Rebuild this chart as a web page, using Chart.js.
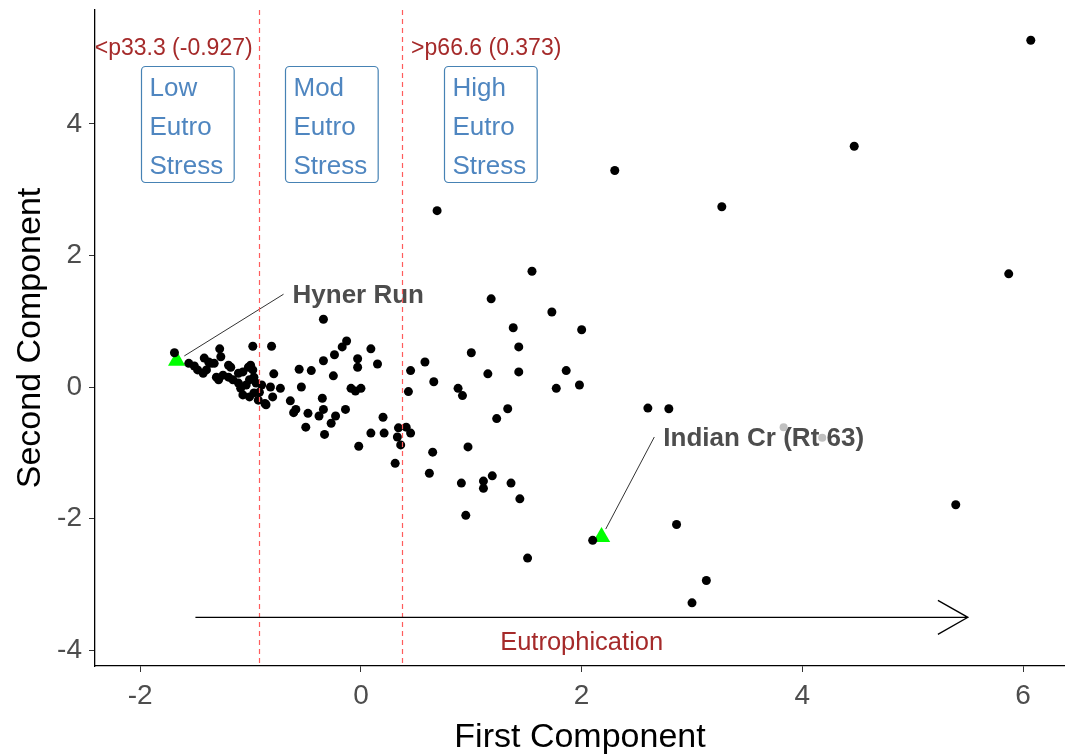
<!DOCTYPE html>
<html>
<head>
<meta charset="utf-8">
<title>PCA - Eutrophication stress</title>
<script src="https://cdn.jsdelivr.net/npm/chart.js"></script>
<style>
  body { margin: 0; background: #fff; }
</style>
</head>
<body>
<canvas id="pcaChart" width="1065" height="755"></canvas>
<script>
const xTicks = [-2, 0, 2, 4, 6];
const yTicks = [-4, -2, 0, 2, 4];

// site scores on the first two principal components
const siteScores = [
  [-1.69, 0.52], [-1.56, 0.36], [-1.51, 0.32], [-1.48, 0.26], [-1.42, 0.44], [-1.38, 0.38],
  [-1.36, 0.36], [-1.40, 0.26], [-1.43, 0.21], [-1.33, 0.36], [-1.27, 0.46], [-1.20, 0.33],
  [-1.18, 0.30], [-1.31, 0.15], [-1.29, 0.11], [-1.25, 0.18], [-1.20, 0.15], [-1.16, 0.11],
  [-1.11, 0.21], [-1.07, 0.23], [-1.02, 0.30], [-1.00, 0.33], [-0.98, 0.26], [-1.11, 0.06],
  [-1.09, -0.02], [-1.04, 0.03], [-1.01, 0.11], [-0.97, 0.15], [-0.95, 0.06], [-1.07, -0.12],
  [-1.01, -0.15], [-0.97, -0.09], [-0.92, -0.08], [-0.93, -0.20], [-0.86, -0.27], [-0.90, 0.03],
  [-1.28, 0.58], [-0.98, 0.62], [-0.81, 0.62],
  [-0.34, 1.03], [-0.13, 0.70], [-0.17, 0.61], [-0.24, 0.49], [-0.34, 0.40], [0.09, 0.58],
  [-0.03, 0.43], [-0.03, 0.30], [0.15, 0.35], [-0.56, 0.27], [-0.45, 0.25], [-0.25, 0.17],
  [-0.79, 0.20], [-0.54, 0.00], [-0.82, 0.00], [-0.73, -0.02], [-0.80, -0.15], [-0.87, -0.25],
  [-0.35, -0.17], [-0.64, -0.21], [-0.59, -0.34], [-0.61, -0.39], [-0.48, -0.40], [-0.38, -0.44],
  [-0.34, -0.34], [-0.23, -0.44], [-0.27, -0.55], [-0.14, -0.34], [-0.50, -0.61], [-0.33, -0.72],
  [-0.09, -0.02], [-0.05, -0.06], [0.00, -0.02], [0.20, -0.46], [0.09, -0.70], [0.21, -0.70],
  [0.34, -0.62], [0.41, -0.61], [0.45, -0.70], [0.33, -0.76], [0.36, -0.88], [-0.02, -0.90],
  [0.31, -1.16],
  [0.45, 0.25], [0.58, 0.38], [0.66, 0.08], [0.43, -0.07], [0.65, -0.99], [1.43, 0.61],
  [1.00, 0.52], [1.15, 0.20], [1.43, 0.23], [0.88, -0.02], [0.92, -0.13], [1.77, -0.02],
  [1.33, -0.33], [1.23, -0.48], [0.97, -0.91], [0.62, -1.31], [0.91, -1.46], [1.11, -1.43],
  [1.11, -1.54], [1.19, -1.35], [1.36, -1.46], [1.44, -1.70], [0.95, -1.95], [1.51, -2.60],
  [1.55, 1.76], [1.18, 1.34], [1.73, 1.14], [1.38, 0.90], [2.00, 0.87], [1.86, 0.25],
  [1.98, 0.03], [2.60, -0.32], [2.79, -0.33], [2.86, -2.09], [3.13, -2.94], [3.00, -3.28],
  [2.10, -2.33], [0.69, 2.68], [2.30, 3.29], [3.27, 2.74], [4.47, 3.66], [6.07, 5.27],
  [5.87, 1.72], [5.39, -1.79]
];

// faint points sitting under the Indian Cr label
const fadedScores = [[3.83, -0.61], [4.18, -0.77]];

// highlighted sites
const labelNames = ['Hyner Run', 'Indian Cr (Rt 63)'];
const labelScores = [[-1.67, 0.40], [2.18, -2.28]];
const labelTextAt = [[-0.62, 1.38], [2.74, -0.79]];

// tercile cut points on the first component
const cutValues = [-0.927, 0.373];
const cutLabels = ['<p33.3 (-0.927)', '>p66.6 (0.373)'];

const stressClasses = [['Low', 'Eutro', 'Stress'], ['Mod', 'Eutro', 'Stress'], ['High', 'Eutro', 'Stress']];
const stressCentreX = [-1.57, -0.27, 1.17];
const stressCentreY = 4.0;

const arrowFrom = [-1.5, -3.5];
const arrowTo = [5.5, -3.5];
const arrowText = 'Eutrophication';
const arrowTextAt = [2.0, -3.89];

const FONT = '"Liberation Sans", Arial, sans-serif';
const toXY = arr => arr.map(p => ({ x: p[0], y: p[1] }));

const annotations = {
  id: 'annotations',
  beforeDatasetsDraw(chart) {
    const { ctx, scales: { x, y } } = chart;
    ctx.save();
    // leader lines and site names
    ctx.strokeStyle = '#333';
    ctx.lineWidth = 1;
    ctx.font = 'bold 26px ' + FONT;
    ctx.fillStyle = '#4d4d4d';
    ctx.textBaseline = 'middle';
    ctx.textAlign = 'left';
    labelScores.forEach((p, i) => {
      const px = x.getPixelForValue(p[0]), py = y.getPixelForValue(p[1]);
      const tx = x.getPixelForValue(labelTextAt[i][0]), ty = y.getPixelForValue(labelTextAt[i][1]);
      const ex = tx - 9, ey = ty - 2;
      const d = Math.hypot(ex - px, ey - py);
      const sx = px + (ex - px) / d * 9, sy = py + (ey - py) / d * 9;
      ctx.beginPath();
      ctx.moveTo(sx, sy);
      ctx.lineTo(ex, ey);
      ctx.stroke();
      ctx.fillText(labelNames[i], tx, ty);
    });
    ctx.restore();
  },
  afterDatasetsDraw(chart) {
    const { ctx, chartArea, scales: { x, y } } = chart;
    ctx.save();

    // tercile cut lines
    ctx.strokeStyle = '#ff5c5c';
    ctx.lineWidth = 1.2;
    ctx.setLineDash([5, 4]);
    cutValues.forEach(v => {
      const px = Math.round(x.getPixelForValue(v)) + 0.5;
      ctx.beginPath();
      ctx.moveTo(px, chartArea.top);
      ctx.lineTo(px, chartArea.bottom);
      ctx.stroke();
    });
    ctx.setLineDash([]);

    // cut labels
    ctx.font = '23px ' + FONT;
    ctx.fillStyle = '#a52a2a';
    ctx.textBaseline = 'middle';
    const cy = y.getPixelForValue(5.14);
    ctx.textAlign = 'right';
    ctx.fillText(cutLabels[0], x.getPixelForValue(cutValues[0]) - 6, cy);
    ctx.textAlign = 'left';
    ctx.fillText(cutLabels[1], x.getPixelForValue(cutValues[1]) + 9, cy);

    // stress class boxes
    ctx.font = '26px ' + FONT;
    stressClasses.forEach((lines, i) => {
      const w = Math.max(...lines.map(t => ctx.measureText(t).width)) + 19;
      const h = 116;
      const cx = x.getPixelForValue(stressCentreX[i]);
      const cyy = y.getPixelForValue(stressCentreY);
      const left = Math.round(cx - w / 2) + 0.5, top = Math.round(cyy - h / 2) + 0.5;
      ctx.strokeStyle = '#4682b4';
      ctx.lineWidth = 1.2;
      ctx.beginPath();
      ctx.roundRect(left, top, w, h, 4);
      ctx.stroke();
      ctx.fillStyle = '#4f86c0';
      ctx.textAlign = 'left';
      lines.forEach((t, k) => ctx.fillText(t, left + 8, cyy + (k - 1) * 39 + 4));
    });

    // eutrophication arrow
    const ax0 = x.getPixelForValue(arrowFrom[0]), ay = y.getPixelForValue(arrowFrom[1]);
    const ax1 = x.getPixelForValue(arrowTo[0]);
    ctx.strokeStyle = '#000';
    ctx.lineWidth = 1.3;
    ctx.beginPath();
    ctx.moveTo(ax0, ay);
    ctx.lineTo(ax1, ay);
    ctx.moveTo(ax1 - 30, ay - 17);
    ctx.lineTo(ax1, ay);
    ctx.lineTo(ax1 - 30, ay + 17);
    ctx.stroke();
    ctx.font = '25.5px ' + FONT;
    ctx.fillStyle = '#a52a2a';
    ctx.textAlign = 'center';
    ctx.fillText(arrowText, x.getPixelForValue(arrowTextAt[0]), y.getPixelForValue(arrowTextAt[1]));

    ctx.restore();
  }
};

// keep the plot panel flush with the canvas edges
const noScalePadding = s => {
  s.paddingTop = 0; s.paddingBottom = 0; s.paddingLeft = 0; s.paddingRight = 0;
};

const axisCommon = {
  type: 'linear',
  grid: { display: true, drawOnChartArea: false, drawTicks: true, tickLength: 6, color: '#333', tickWidth: 1 },
  border: { display: true, color: '#000', width: 1.3 },
  ticks: { font: { family: FONT, size: 28 }, color: '#4d4d4d' }
};

new Chart(document.getElementById('pcaChart'), {
  type: 'scatter',
  data: {
    datasets: [
      {
        label: 'Sites',
        data: toXY(siteScores),
        backgroundColor: '#000',
        borderWidth: 0,
        pointRadius: 4.5
      },
      {
        label: 'Faded',
        data: toXY(fadedScores),
        backgroundColor: '#c0c0c0',
        borderWidth: 0,
        pointRadius: 4
      },
      {
        label: 'Labelled sites',
        data: toXY(labelScores),
        backgroundColor: '#00ff00',
        borderWidth: 0,
        pointStyle: 'triangle',
        pointRadius: 10
      }
    ]
  },
  options: {
    responsive: false,
    animation: false,
    layout: { autoPadding: false, padding: { top: 10, right: 0, left: 0, bottom: 0 } },
    plugins: {
      legend: { display: false },
      tooltip: { enabled: false }
    },
    scales: {
      x: {
        ...axisCommon,
        min: -2.41,
        max: 6.38,
        afterBuildTicks: s => { s.ticks = xTicks.map(v => ({ value: v })); },
        afterFit: s => { s.height = 89; noScalePadding(s); },
        ticks: { ...axisCommon.ticks, padding: 7, maxRotation: 0 },
        title: {
          display: true, text: 'First Component', color: '#000',
          font: { family: FONT, size: 34 }, padding: { top: 0, bottom: -3 }
        }
      },
      y: {
        ...axisCommon,
        min: -4.24,
        max: 5.73,
        afterBuildTicks: s => { s.ticks = yTicks.map(v => ({ value: v })); },
        afterFit: s => { s.width = 95; noScalePadding(s); },
        ticks: { ...axisCommon.ticks, padding: 7 },
        title: {
          display: true, text: 'Second Component', color: '#000',
          font: { family: FONT, size: 34 }, padding: { top: 10, bottom: 0 }
        }
      }
    }
  },
  plugins: [annotations]
});
</script>
</body>
</html>
